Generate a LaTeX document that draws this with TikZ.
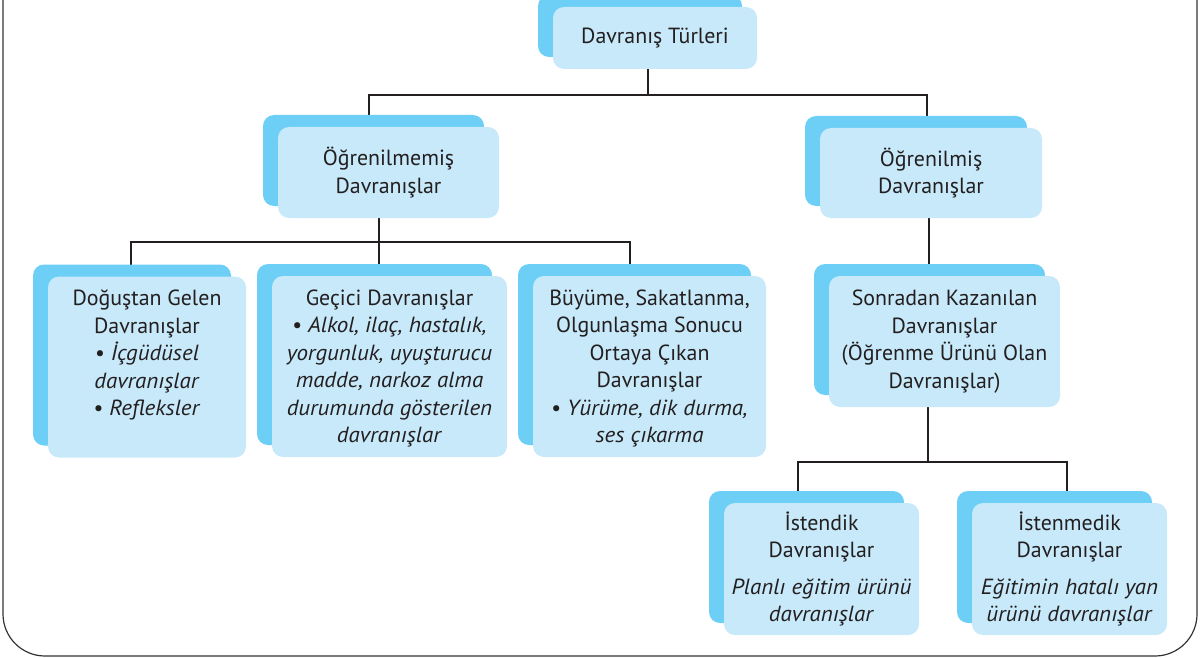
\documentclass[tikz,border=0pt]{standalone}
\usepackage{fontspec}
\setmainfont{PT Sans}[ItalicFeatures={FakeStretch=1.05}]
\usetikzlibrary{shadows,calc,backgrounds}
\definecolor{backblue}{HTML}{6DCFF6}
\definecolor{frontblue}{HTML}{C7E9F9}
\definecolor{ink}{HTML}{231F20}
\definecolor{framegray}{HTML}{333333}

\tikzset{
  box/.style={rectangle, rounded corners=11pt, fill=frontblue, draw=none,
    inner sep=0pt, text=ink, align=center,
    font=\fontsize{21.9}{27.5}\selectfont,
    copy shadow={shadow xshift=-15pt, shadow yshift=12pt, fill=backblue, draw=none}},
  conn/.style={draw=ink, line width=1.6pt},
  frame/.style={draw=framegray, line width=1.2pt, rounded corners=42pt}
}

\newcommand{\topbox}[2]{\parbox[c][161.5pt][t]{#1}{\centering\strut #2}}

\begin{document}
\begin{tikzpicture}[x=1pt,y=-1pt]
\useasboundingbox (0,0) rectangle (1204,658);

% outer frame, its top edge runs above the page
\draw[frame] (3,-60) rectangle (1197,656);

% root
\node[box, minimum width=204pt, minimum height=62pt] (root) at (655,38) {Davranış Türleri};

% second level
\node[box, minimum width=221pt, minimum height=91pt] (una) at (388.5,172.5) {Öğrenilmemiş\\Davranışlar};
\node[box, minimum width=222pt, minimum height=90pt] (lea) at (931,173) {Öğrenilmiş\\Davranışlar};

% unlearned behaviours
\node[box, minimum width=198pt, minimum height=181pt] (inn) at (147,367)
  {\topbox{194pt}{Doğuştan Gelen\\Davranışlar\\•\ \textit{İçgüdüsel}\\\textit{davranışlar}\\•\ \textit{Refleksler}}};
\node[box, minimum width=235pt, minimum height=181pt] (tmp) at (389.5,366.5)
  {\topbox{232pt}{Geçici Davranışlar\\•\ \textit{Alkol, ilaç, hastalık,}\\\textit{yorgunluk, uyuşturucu}\\\textit{madde, narkoz alma}\\\textit{durumunda gösterilen}\\\textit{davranışlar}}};
\node[box, minimum width=233pt, minimum height=181pt] (mat) at (649.5,366.5)
  {\topbox{230pt}{Büyüme, Sakatlanma,\\Olgunlaşma Sonucu\\Ortaya Çıkan\\Davranışlar\\•\ \textit{Yürüme, dik durma,}\\\textit{ses çıkarma}}};

% learned behaviours
\node[box, minimum width=231pt, minimum height=131pt] (acq) at (944.5,341.5)
  {Sonradan Kazanılan\\Davranışlar\\(Öğrenme Ürünü Olan\\Davranışlar)};
\node[box, minimum width=195pt, minimum height=132pt] (wan) at (821.5,569)
  {İstendik\\Davranışlar\\[9pt]\textit{Planlı eğitim ürünü}\\\textit{davranışlar}};
\node[box, minimum width=195pt, minimum height=132pt] (unw) at (1069.5,569)
  {İstenmedik\\Davranışlar\\[9pt]\textit{Eğitimin hatalı yan}\\\textit{ürünü davranışlar}};

\begin{scope}[on background layer]
  % root to second level
  \coordinate (j1) at ($([xshift=-7pt]root.south)+(0,26)$);
  \draw[conn] ([xshift=-7pt]root.south) -- (j1);
  \draw[conn] ([xshift=-19.5pt]una.north) |- (j1) -| ([xshift=-4pt]lea.north);

  % unlearned branch
  \coordinate (j2) at ($([xshift=-9.5pt]una.south)+(0,24)$);
  \draw[conn] ([xshift=-9.5pt]una.south) -- (j2);
  \draw[conn] ([xshift=-16pt]inn.north) |- (j2) -| ([xshift=-19.5pt]mat.north);
  \draw[conn] (j2) -- (j2 |- tmp.north);

  % learned branch
  \draw[conn] ([xshift=-2pt]lea.south) -- ([xshift=-2pt]lea.south |- acq.north);
  \coordinate (j3) at ($([xshift=-16.5pt]acq.south)+(0,55)$);
  \draw[conn] ([xshift=-16.5pt]acq.south) -- (j3);
  \draw[conn] ([xshift=-23.5pt]wan.north) |- (j3) -| ([xshift=-2.5pt]unw.north);
\end{scope}
\end{tikzpicture}
\end{document}
